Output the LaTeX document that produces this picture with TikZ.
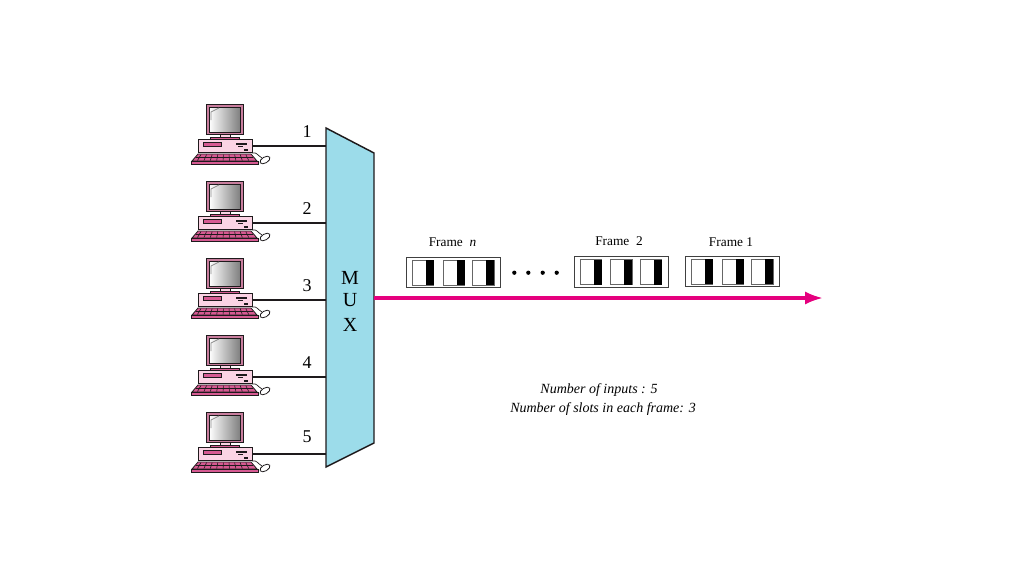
\documentclass[tikz,border=0pt]{standalone}
\usepackage{fontspec}
\setmainfont{Liberation Serif}
\definecolor{muxfill}{HTML}{9CDCEA}
\definecolor{linkpink}{HTML}{E5007E}
\definecolor{casepink}{HTML}{FBD3E4}
\definecolor{keypink}{HTML}{D65A92}
\definecolor{outl}{HTML}{1E1A1C}
\definecolor{darkrose}{HTML}{8A2A55}
\definecolor{monframe}{HTML}{F3B6CF}
\usetikzlibrary{arrows.meta}
\tikzset{
  pcline/.style={draw=outl,line width=0.6pt},
  link/.style={draw=outl,line width=1.5pt},
  framebox/.style={draw=black!75,line width=0.6pt,minimum width=70.5pt,minimum height=23pt,inner sep=0pt},
  slotw/.style={draw=black!60,fill=white,line width=0.6pt},
  slotb/.style={fill=black},
  numlabel/.style={font=\fontsize{13.5}{14}\selectfont,inner sep=0pt},
  framelabel/.style={font=\fontsize{10}{12}\selectfont,inner sep=0pt},
  notelabel/.style={font=\fontsize{10.5}{12}\selectfont\itshape,inner sep=0pt},
  muxlabel/.style={font=\fontsize{15}{16}\selectfont,inner sep=0pt},
  dotmark/.style={circle,fill=black,minimum size=3.2pt,inner sep=0pt},
  pc/.pic={
    % monitor
    \draw[pcline,fill=monframe!60!darkrose] (206,104) rectangle (243,134);
    \shade[left color=white,middle color=white!85!black,right color=black!50,draw=outl,line width=0.4pt] (209,107) rectangle (240,132);
    \draw[black!45,line width=0.6pt] (211,120) -- (211,112) -- (219,108);
    \draw[pcline,fill=casepink] (220,134) rectangle (230,137);
    \draw[pcline,fill=keypink] (210,137) rectangle (239,139);
    % case
    \draw[pcline,fill=casepink] (198,139) rectangle (252,152);
    \draw[pcline,fill=keypink] (203,142.5) rectangle (221,146);
    \draw[outl,line width=0.9pt] (236,144) -- (247,144);
    \draw[outl,line width=0.9pt] (238,146.5) -- (243,146.5);
    \fill[outl] (244,149) rectangle (248,150.5);
    % cable and mouse
    \draw[outl,line width=0.5pt] (252,153) .. controls (257,152) and (257,155) .. (262,158);
    \draw[pcline,fill=white,rotate around={30:(265,160)}] (265,160) ellipse (5.5 and 3);
    % keyboard
    \draw[pcline,fill=keypink] (198,154) -- (251,154) -- (257,161) -- (192,161) -- cycle;
    \foreach \k in {0,...,8} {\draw[outl,line width=0.45pt] ({201+\k*5.6},154.5) -- ({197.5+\k*6.4},160.5);}
    \draw[outl,line width=0.45pt] (196,157.5) -- (253,157.5);
    \draw[pcline,fill=keypink] (191,161) rectangle (258,164);
  }
}
\begin{document}
\begin{tikzpicture}[x=0.75pt,y=-0.75pt]
\useasboundingbox (0,0) rectangle (1024,576);
% MUX
\draw[draw=outl,line width=1.1pt,fill=muxfill,line join=miter] (326,128) -- (374,153) -- (374,443) -- (326,467) -- cycle;
\node[muxlabel] (muxm) at (350,277.5) {M};
\node[muxlabel] (muxu) at (350,300.5) {U};
\node[muxlabel] (muxx) at (350,324.5) {X};
% computers and links
\foreach \i/\dy/\ly/\lx in {1/0/132/307,2/77/209/307,3/154/286/307,4/231/363/307,5/308/437/307} {
  \pic at (0,\dy) {pc};
  \node[minimum width=0pt,inner sep=0pt] (pc\i) at (252,145.5+\dy) {};
  \coordinate (in\i) at (326,145.5+\dy);
  \draw[link] (pc\i) -- (in\i);
  \node[numlabel] (num\i) at (\lx,\ly) {\i};
}
% trunk
\coordinate (muxout) at (374,298);
\coordinate (trunkend) at (823,298);
\draw[draw=linkpink,line width=2.5pt,-{Latex[length=13.5pt,width=10pt]}] (muxout) -- (trunkend);
% frames
\foreach \name/\x/\y/\a/\b/\c/\wa in {
  fn/453/272.5/412.3/443.3/472.7/21.5,
  f2/621.3/272/580.3/610.7/640.3/21.5,
  f1/732.3/271.5/691.3/722.3/751.7/21.5} {
  \node[framebox] (\name) at (\x,\y) {};
  \foreach \s in {\a,\b,\c} {
    \draw[slotw] (\s,\y-12.5) rectangle (\s+21.5,\y+12.5);
    \fill[slotb] (\s+13.5,\y-12.5) rectangle (\s+21.5,\y+12.5);
  }
}
\node[framelabel] (lfn) at (452.5,242) {Frame \ \textit{n}};
\node[framelabel] (lf2) at (619,241) {Frame \ 2};
\node[framelabel] (lf1) at (731,242) {Frame 1};
\foreach \i/\x in {1/514.3,2/528.3,3/542.7,4/556.7} {\node[dotmark] (dot\i) at (\x,272.7) {};}
\node[notelabel] (note1) at (599,390) {Number of inputs : 5};
\node[notelabel] (note2) at (603,409) {Number of slots in each frame: 3};
\end{tikzpicture}
\end{document}
